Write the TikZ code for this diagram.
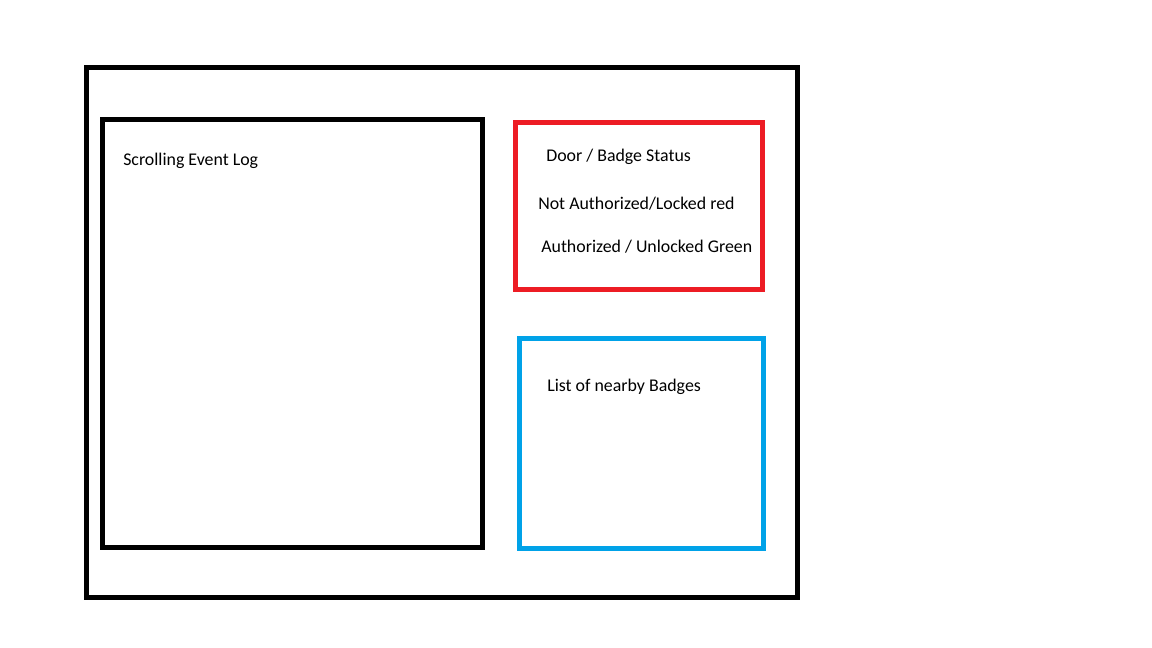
\documentclass[tikz,border=0pt]{standalone}
\usepackage{fontspec}
\setmainfont{Carlito}
\begin{document}
\begin{tikzpicture}[x=0.75pt,y=-0.75pt,
  frame/.style={draw=#1, line width=3.4pt, inner sep=0pt, outer sep=0pt},
  lbl/.style={anchor=base west, inner sep=0pt, font=\fontsize{13.4pt}{16pt}\selectfont, text=black}]
\useasboundingbox[fill=white] (0,0) rectangle (1152,648);
\definecolor{boxred}{HTML}{ED1C24}
\definecolor{boxblue}{HTML}{00A2E8}
\node[frame=black, minimum width=711*0.75pt, minimum height=530*0.75pt] (outer) at (442,332.5) {};
\node[frame=black, minimum width=380*0.75pt, minimum height=428*0.75pt] (log) at (292.5,333.5) {};
\node[frame=boxred, minimum width=247*0.75pt, minimum height=167*0.75pt] (status) at (639,206) {};
\node[frame=boxblue, minimum width=244*0.75pt, minimum height=210*0.75pt] (badges) at (641.5,443.5) {};
\node[lbl] (t1) at (123,166) {Scrolling Event Log};
\node[lbl] (t2) at (546,161.7) {Door / Badge Status};
\node[lbl] (t3) at (538,210) {Not Authorized/Locked red};
\node[lbl] (t4) at (541,252.7) {Authorized / Unlocked Green};
\node[lbl] (t5) at (547,391) {List of nearby Badges};
\end{tikzpicture}
\end{document}
